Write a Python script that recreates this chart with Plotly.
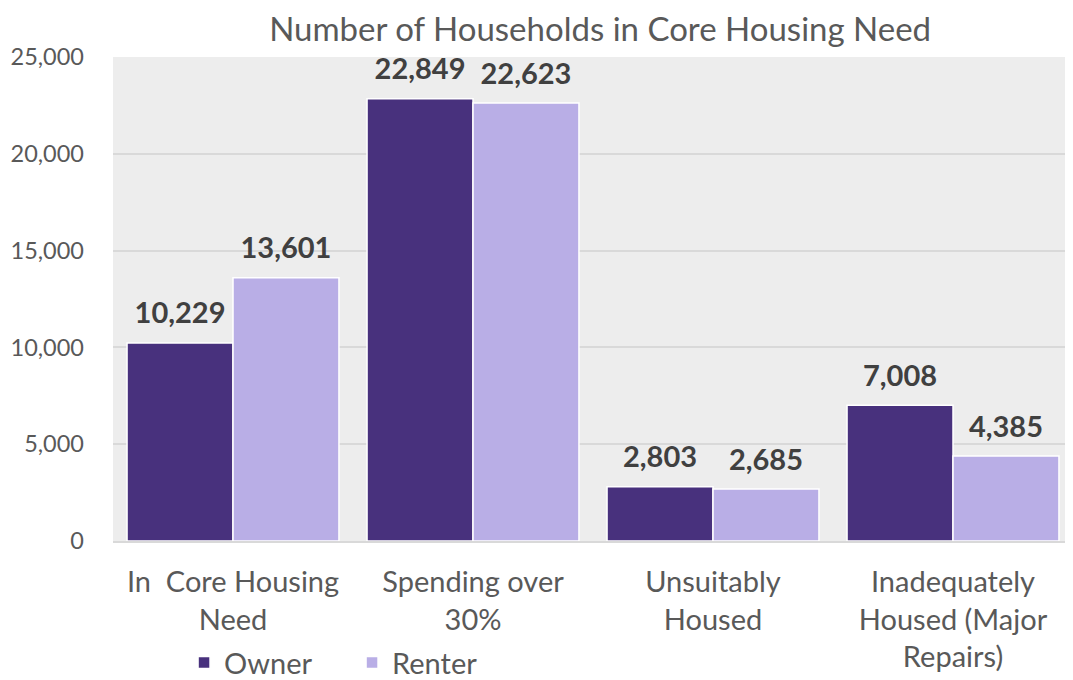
import plotly.graph_objects as go

categories = ["In  Core Housing<br>Need", "Spending over<br>30%", "Unsuitably<br>Housed", "Inadequately<br>Housed (Major<br>Repairs)"]
owner = [10229, 22849, 2803, 7008]
renter = [13601, 22623, 2685, 4385]
tick_vals = [0, 5000, 10000, 15000, 20000, 25000]
tick_text = ["0", "5,000", "10,000", "15,000", "20,000", "25,000"]

FONT = "Lato, Open Sans, sans-serif"
GAP = 0.117

fig = go.Figure()
for name, vals, col in [("Owner", owner, "#48317D"), ("Renter", renter, "#B9AEE6")]:
    fig.add_trace(go.Bar(
        x=categories, y=vals, name=name, offsetgroup=name,
        marker=dict(color=col, line=dict(color="white", width=1.5)),
        hoverinfo="x+y",
    ))
for name, vals in [("Owner", owner), ("Renter", renter)]:
    fig.add_trace(go.Scatter(
        x=categories, y=vals, offsetgroup=name, mode="markers+text",
        marker=dict(size=18, opacity=0), showlegend=False, hoverinfo="skip",
        text=[f"{v:,}" for v in vals], textposition="top center",
        textfont=dict(family=FONT, size=29, color="#404040", weight="bold"),
        cliponaxis=False,
    ))

fig.update_layout(
    width=1065, height=672,
    margin=dict(l=105, r=0, t=49, b=139),
    paper_bgcolor="white", plot_bgcolor="#EDEDED",
    barmode="group", bargap=GAP, bargroupgap=0,
    scattermode="group", scattergap=GAP,
    font=dict(family=FONT, color="#595959"),
    title=dict(text="Number of Households in Core Housing Need", x=0.556, xanchor="center",
               xref="container", yref="container", y=0.968, yanchor="middle",
               font=dict(family=FONT, size=33, color="#595959")),
    xaxis=dict(tickfont=dict(size=29, color="#595959"), showline=True, linecolor="#D9D9D9", linewidth=2,
               ticks="", automargin=False, ticklabelstandoff=14),
    yaxis=dict(range=[0, 25000], tickvals=tick_vals, ticktext=tick_text,
               tickfont=dict(size=23.5, color="#595959"), gridcolor="#D9D9D9", gridwidth=1.5,
               zeroline=False, ticks="", ticklabelstandoff=28, automargin=False),
    legend=dict(orientation="h", x=0.074, xanchor="left", yref="container", y=0.026, yanchor="middle",
                font=dict(size=29, color="#595959"), traceorder="normal",
                itemwidth=30, entrywidth=123),
)

fig.write_html("out.html")
